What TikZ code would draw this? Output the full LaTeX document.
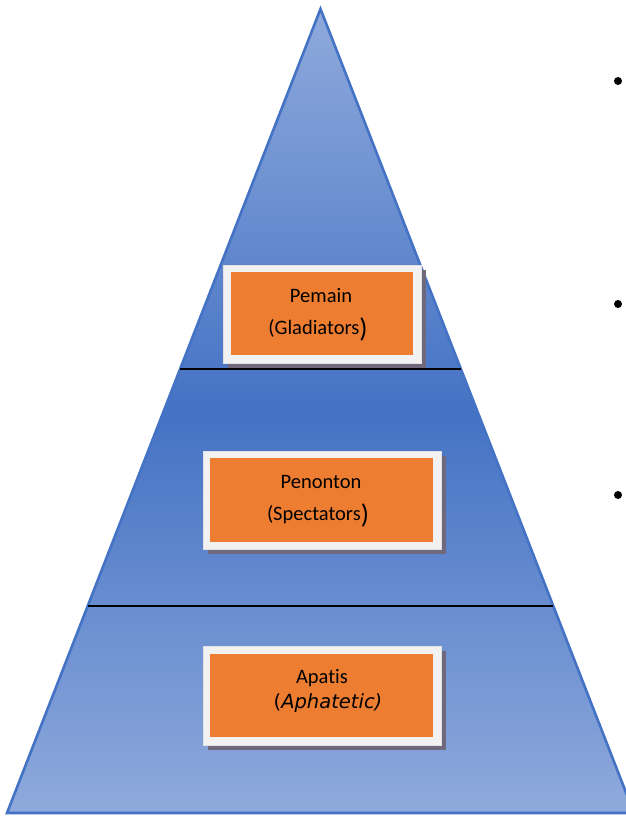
\documentclass[tikz,border=0pt]{standalone}
\usepackage{fontspec}
\setmainfont[Ligatures=NoCommon]{Carlito}
\newfontfamily\italfont{DejaVu Sans}
\usetikzlibrary{calc}
\definecolor{pyrlight}{RGB}{143,170,220}
\definecolor{pyrdark}{RGB}{68,114,196}
\definecolor{pyredge}{RGB}{68,114,196}
\definecolor{boxorange}{RGB}{237,125,49}
\definecolor{boxframe}{RGB}{242,242,242}
\definecolor{boxshadow}{RGB}{112,104,124}
\tikzset{
  frame/.style={fill=boxframe, draw=boxframe!85!gray, line width=0.5bp},
  shade box/.style={fill=boxshadow},
  inner box/.style={fill=boxorange, draw=none},
  label text/.style={font=\fontsize{20.5bp}{24bp}\selectfont, text=black, inner sep=0pt},
  divider/.style={draw=black, line width=1.6bp},
  bulletdot/.style={circle, fill=black, inner sep=0pt, minimum size=8bp},
}
\newcommand{\bigclose}{\raisebox{-2.5bp}{\fontsize{27bp}{27bp}\selectfont)}}
\begin{document}
\begin{tikzpicture}[x=1bp,y=-1bp]
\useasboundingbox (0,0) rectangle (626,816);
\clip (0,0) rectangle (626,816);
% pyramid outline
\coordinate (apex) at (320.5,9);
\coordinate (bl) at (7,813);
\coordinate (br) at (634,813);
\fill[top color=pyrlight, bottom color=pyrlight, middle color=pyrdark]
  (apex) -- (br) -- (bl) -- cycle;
\draw[pyredge, line width=2.6bp, line join=miter] (apex) -- (br) -- (bl) -- cycle;
% level dividers
\coordinate (d1l) at ($(apex)!{(369-9)/804}!(bl)$);
\coordinate (d1r) at ($(apex)!{(369-9)/804}!(br)$);
\coordinate (d2l) at ($(apex)!{(606-9)/804}!(bl)$);
\coordinate (d2r) at ($(apex)!{(606-9)/804}!(br)$);
\draw[divider] (d1l) -- (d1r);
\draw[divider] (d2l) -- (d2r);
% level boxes: shadow, white frame, orange panel
\fill[shade box] (228,270) rectangle (426,368);
\draw[frame] (223,265) rectangle (421,363);
\fill[inner box] (231,272) rectangle (413,355);
\fill[shade box] (208,456) rectangle (446,554);
\draw[frame] (203,451) rectangle (441,549);
\fill[inner box] (210,458) rectangle (433,542);
\fill[shade box] (208,651) rectangle (446,750);
\draw[frame] (203,646) rectangle (441,745);
\fill[inner box] (210,654) rectangle (433,737);
% labels
\node[label text] (t1a) at (321,296) {Pemain};
\node[label text] (t1b) at (318,329) {(Gladiators\bigclose};
\node[label text] (t2a) at (321,482) {Penonton};
\node[label text] (t2b) at (318,515) {(Spectators\bigclose};
\node[label text] (t3a) at (322,678) {Apatis};
\node[label text, font=\italfont\fontsize{19.5bp}{24bp}\selectfont] (t3b) at (328,703) {(\textit{Aphatetic)}};
% bullets
\node[bulletdot] (b1) at (618,81) {};
\node[bulletdot] (b2) at (618,304) {};
\node[bulletdot] (b3) at (618,495) {};
\end{tikzpicture}
\end{document}
